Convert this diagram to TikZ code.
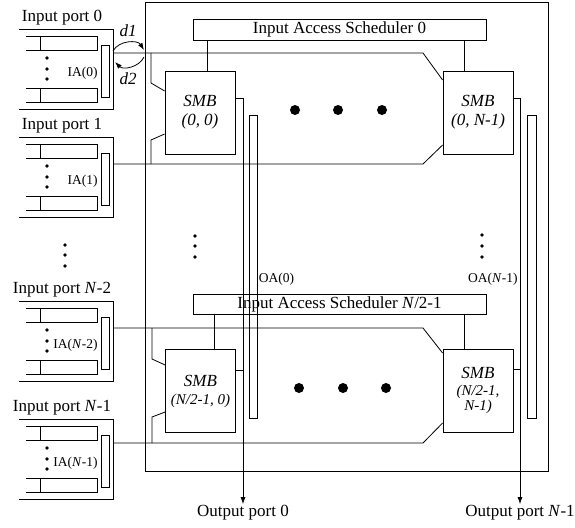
\documentclass[tikz,border=0pt]{standalone}
\usepackage{fontspec}
\setmainfont{Liberation Serif}
\usetikzlibrary{arrows.meta}
\newcommand{\bigtxt}{\fontsize{17}{19}\selectfont}
\newcommand{\smalltxt}{\fontsize{13.5}{15}\selectfont}
\newcommand{\smbtxt}{\fontsize{15}{15}\selectfont}

\tikzset{
	smb/.style={draw,minimum width=70pt,minimum height=83pt,inner sep=0pt,align=center,font=\bigtxt\itshape},
	sched/.style={draw,minimum width=293pt,minimum height=21pt,inner sep=0pt,font=\bigtxt},
	bar/.style={draw,minimum width=8pt,inner sep=0pt},
	lbl/.style={inner sep=1pt,font=\bigtxt},
	slbl/.style={inner sep=1pt,font=\smalltxt},
	arr/.style={-{Latex[length=7pt,width=5pt]}},
}
\tikzset{
	pics/inport/.style={
		code={
\draw (0,0)--(94,0)--(94,80)--(0,80);
\draw (7,7)--(78,7)--(78,21)--(7,21) (21,7)--(21,21);
\draw (7,59)--(78,59)--(78,73)--(7,73) (21,59)--(21,73);
\foreach \y in {29,40,50} \fill (28,\y) circle (1.8pt);
\coordinate (-edge) at (94,42);
\node[bar,minimum height=52pt] (-bar) at (86,42) {};
\node[slbl,anchor=east] (-ia) at (80,44) {IA(#1)};
\node[lbl] (-name) at (43,-11) {Input port #1};
		}
	}
}

\begin{document}
\begin{tikzpicture}[x=1pt,y=-1pt,line width=0.8pt]
\useasboundingbox (0,0) rectangle (575,527);

%Chip
\node[draw,minimum width=403pt,minimum height=469pt,inner sep=0pt] (chip) at (346.5,236.5) {};

%Input ports
\path (19,29) pic (p0) {inport=0};
\path (19,137) pic (p1) {inport=1};
\path (19,301) pic (p2) {inport={\textit{N}-2}};
\path (19,419) pic (p3) {inport={\textit{N}-1}};

%Scheduler + SMB
\node[sched] (is0) at (339.5,29.5) {Input Access Scheduler 0};
\node[sched,minimum height=20pt] (is1) at (339.5,304) {Input Access Scheduler \textit{N}/2-1};
\node[smb] (s00) at (200,112.5) {SMB\\(0, 0)};
\node[smb] (s0n) at (478,112.5) {SMB\\(0, N-1)};
\node[smb] (s10) at (200.5,391) {SMB\\[-1pt]{\smbtxt(N/2-1, 0)}};
\node[smb] (s1n) at (478,390.5) {SMB\\[-2pt]{\smbtxt(N/2-1,}\\[-3.5pt]{\smbtxt N-1)}};

\coordinate (c00) at ([xshift=7pt]s00.north);
\coordinate (c0n) at ([xshift=-14pt]s0n.north);
\coordinate (c10) at ([xshift=13.5pt]s10.north);
\coordinate (c1n) at ([xshift=-14pt]s1n.north);
\draw (c00) -- (c00 |- is0.south);
\draw (c0n) -- (c0n |- is0.south);
\draw (c10) -- (c10 |- is1.south);
\draw (c1n) -- (c1n |- is1.south);

%Busse
\coordinate (r0) at (151,53);
\coordinate (r1) at (151,164);
\coordinate (r2) at (152,328);
\coordinate (r3) at (152,443);
\coordinate (q0) at (423,53);
\coordinate (q1) at (423,164);
\coordinate (q2) at (423,328);
\coordinate (q3) at (423,443);
\draw (p0-edge |- r0) -- (q0) -- ([yshift=32.5pt]s0n.west);
\draw (p1-edge |- r1) -- (q1) -- ([yshift=-32.5pt]s0n.west);
\draw (r0) -- ++(0,30) -- ([yshift=21.5pt]s00.west);
\draw (r1) -- ++(0,-24) -- ([yshift=-21.5pt]s00.west);
\draw (p2-edge |- r2) -- (q2) -- ([yshift=37.5pt]s1n.west);
\draw (p3-edge |- r3) -- (q3) -- ([yshift=-32.5pt]s1n.west);
\draw (r2) -- ++(0,31) -- ([yshift=26pt]s10.west);
\draw (r3) -- ++(0,-26) -- ([yshift=-21pt]s10.west);

%Outputs
\node[bar,minimum height=303pt] (oa0) at (253,266.5) {};
\node[bar,minimum width=9pt,minimum height=303pt] (oan) at (531.5,266.5) {};
\node[slbl,anchor=west] (oa0l) at (257.5,279) {OA(0)};
\node[slbl,anchor=east] (oanl) at (519,279) {OA(\textit{N}-1)};
\node[lbl] (out0) at (243,513) {Output port 0};
\node[lbl] (outn) at (520,513) {Output port \textit{N}-1};
\coordinate (o10) at ([yshift=21pt]s10.east);
\coordinate (o1n) at ([yshift=21pt]s1n.east);
\draw[arr] ([yshift=14.5pt]s00.east) -| (out0.north);
\draw[arr] ([yshift=14.5pt]s0n.east) -| (outn.north);
\draw (o10) -- (o10 -| out0.north);
\draw (o1n) -- (o1n -| outn.north);

%d1, d2
\coordinate (d1s) at (113,51);
\coordinate (d1e) at (144,50);
\coordinate (d2s) at (144,57);
\coordinate (d2e) at (115,62);
\draw[arr] (d1s) to[bend left=60] (d1e);
\draw[arr] (d2s) to[bend left=55] (d2e);
\node[lbl,font=\bigtxt\itshape] (d1) at (128,31) {d1};
\node[lbl,font=\bigtxt\itshape] (d2) at (128,79) {d2};

%Punkte
\foreach \x in {295,338,382} \fill (\x,110) circle (5pt);
\foreach \x in {299,343,386} \fill (\x,388) circle (5pt);
\foreach \y in {245,255,266} \fill (65,\y) circle (1.8pt);
\foreach \y in {236,246,257} \fill (195,\y) circle (1.8pt);
\foreach \y in {235,246,257} \fill (482,\y) circle (1.8pt);
\end{tikzpicture}
\end{document}
